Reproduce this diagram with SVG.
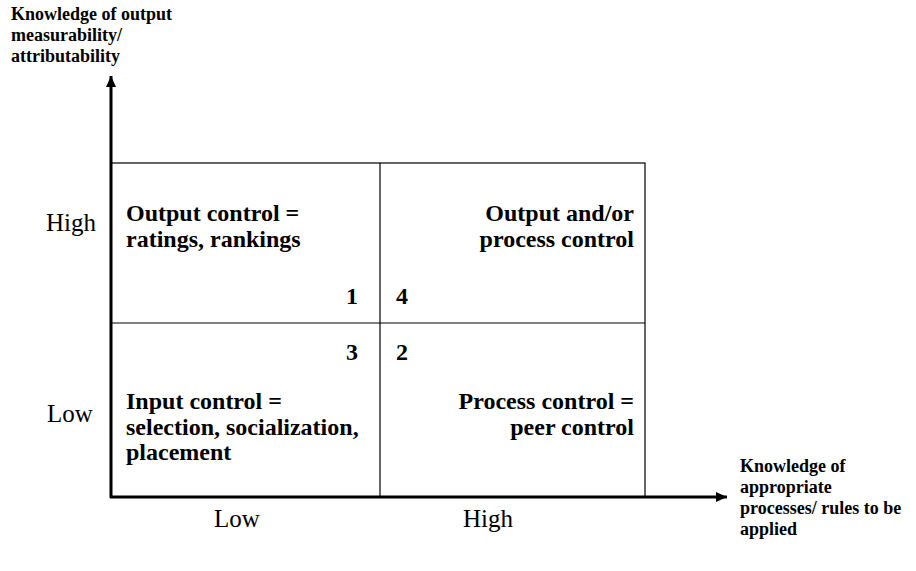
<svg xmlns="http://www.w3.org/2000/svg" width="916" height="571" viewBox="0 0 916 571">
<style>
text{font-family:'Liberation Serif','DejaVu Serif',serif;fill:#000}
.b{font-weight:bold}
.q{font-size:24px}
.ax{font-size:18px}
.r{font-size:25px;font-weight:normal}
.g{stroke:#000;stroke-width:1.2;fill:none}
.axis{stroke:#000;stroke-width:3;fill:none}
</style>
<defs>
<marker id="ah" markerWidth="12" markerHeight="10" refX="11" refY="5" orient="auto" markerUnits="userSpaceOnUse">
<path d="M0,0 L11,5 L0,10 Z" fill="#000"/>
</marker>
</defs>
<rect width="916" height="571" fill="#fff"/>
<g id="grid">
<rect id="quad-box" class="g" x="111" y="163" width="534" height="334"/>
<line class="g" x1="380" y1="163" x2="380" y2="497"/>
<line class="g" x1="111" y1="323" x2="645" y2="323"/>
</g>
<g id="connectors">
<line class="axis" x1="111" y1="498" x2="111" y2="76" marker-end="url(#ah)"/>
<line class="axis" x1="110" y1="497" x2="727" y2="497" marker-end="url(#ah)"/>
</g>
<g id="q1" font-family="Liberation Serif, serif">
<text class="b q" x="126" y="221">Output control =</text>
<text class="b q" x="126" y="247">ratings, rankings</text>
<text class="b q" x="358" y="304" text-anchor="end">1</text>
</g>
<g id="q4">
<text class="b q" x="634" y="221" text-anchor="end">Output and/or</text>
<text class="b q" x="634" y="247" text-anchor="end">process control</text>
<text class="b q" x="396" y="304">4</text>
</g>
<g id="q3">
<text class="b q" x="358" y="360" text-anchor="end">3</text>
<text class="b q" x="126" y="409">Input control =</text>
<text class="b q" x="126" y="435">selection, socialization,</text>
<text class="b q" x="126" y="460">placement</text>
</g>
<g id="q2">
<text class="b q" x="396" y="360">2</text>
<text class="b q" x="634" y="409" text-anchor="end">Process control =</text>
<text class="b q" x="634" y="435" text-anchor="end">peer control</text>
</g>
<g id="y-label">
<text class="b ax" x="11" y="20">Knowledge of output</text>
<text class="b ax" x="11" y="41">measurability/</text>
<text class="b ax" x="11" y="62">attributability</text>
</g>
<g id="x-label">
<text class="b ax" x="740" y="472">Knowledge of</text>
<text class="b ax" x="740" y="493">appropriate</text>
<text class="b ax" x="740" y="514">processes/ rules to be</text>
<text class="b ax" x="740" y="535">applied</text>
</g>
<g id="ticks">
<text class="r" x="46" y="231">High</text>
<text class="r" x="47" y="422">Low</text>
<text class="r" x="214" y="527">Low</text>
<text class="r" x="463" y="527">High</text>
</g>
</svg>
